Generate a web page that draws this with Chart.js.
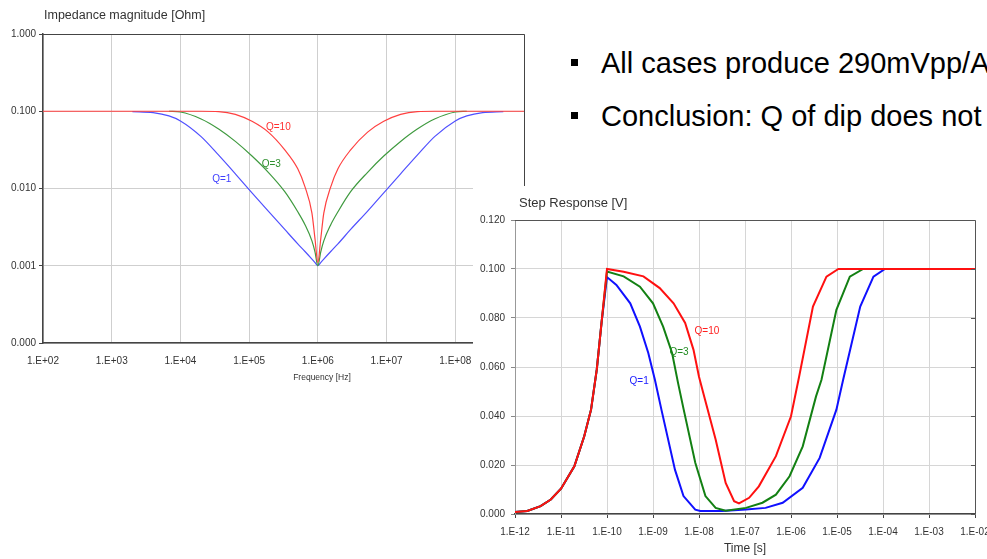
<!DOCTYPE html>
<html>
<head>
<meta charset="utf-8">
<script src="https://cdn.jsdelivr.net/npm/chart.js@4.4.1/dist/chart.umd.min.js"></script>
<style>
  html, body { margin: 0; padding: 0; background: #fff; width: 987px; height: 559px; overflow: hidden; position: relative; font-family: "Liberation Sans", Arial, sans-serif; }
  canvas { position: absolute; }
  #impedance { left: 0; top: 0; }
  #step { left: 473px; top: 186px; background: #fff; }
  .bullet { position: absolute; left: 601px; font-size: 29px; line-height: 29px; color: #000; white-space: nowrap; }
  .bullet::before { content: ""; position: absolute; left: -30px; top: 10px; width: 7px; height: 7px; background: #000; }
</style>
</head>
<body>
<canvas id="impedance" width="560" height="392"></canvas>
<div class="bullet" style="top:49px">All cases produce 290mVpp/A</div>
<div class="bullet" style="top:102px">Conclusion: Q of dip does not</div>
<canvas id="step" width="560" height="373"></canvas>
<script>
// IMPEDANCE CHART DATA
var freqs = [1e2, 1e3, 2e3, 4e3, 6.8e3, 1e4, 2e4, 3.6e4, 6.3e4, 1.1e5, 1.9e5, 3.3e5, 5.1e5, 6.5e5, 8.2e5, 9.1e5, 1e6,
             1.1e6, 1.22e6, 1.54e6, 1.96e6, 3e6, 5.3e6, 9.1e6, 1.6e7, 2.8e7, 5e7, 1e8, 1.47e8, 2.5e8, 5e8, 1e9];
var zQ10 = [0.1, 0.1, 0.1, 0.1, 0.1, 0.1, 0.1, 0.099, 0.0912, 0.0741, 0.0537, 0.0316, 0.018, 0.0105, 0.0048, 0.0022, 0.0011,
            0.0022, 0.0048, 0.0105, 0.018, 0.0316, 0.0537, 0.0741, 0.0912, 0.099, 0.1, 0.1, 0.1, 0.1, 0.1, 0.1];
var zQ3 = [null, null, null, null, 0.1, 0.0977, 0.0794, 0.0589, 0.0407, 0.0263, 0.0162, 0.0091, 0.005, 0.0034, 0.0021, 0.0015, 0.001,
           0.0015, 0.0021, 0.0034, 0.005, 0.0091, 0.0162, 0.0263, 0.0407, 0.0589, 0.0794, 0.0977, 0.1, null, null, null];
var zQ1 = [null, null, 0.099, 0.096, 0.087, 0.075, 0.047, 0.027, 0.0155, 0.0088, 0.0051, 0.00295, 0.00192, 0.00153, 0.00122, 0.0011, 0.001,
           0.0011, 0.00122, 0.00153, 0.00192, 0.00295, 0.0051, 0.0088, 0.0155, 0.027, 0.047, 0.075, 0.087, 0.096, 0.099, null];
var freqTicks = [1e2, 1e3, 1e4, 1e5, 1e6, 1e7, 1e8, 1e9];
var freqTickLabels = ['1.E+02', '1.E+03', '1.E+04', '1.E+05', '1.E+06', '1.E+07', '1.E+08', '1.E+09'];
var zTicks = [1e-4, 1e-3, 1e-2, 1e-1, 1];
var zTickLabels = ['0.000', '0.001', '0.010', '0.100', '1.000'];

// STEP RESPONSE DATA
var tQ10 = [1e-12, 1.85e-12, 3.6e-12, 6e-12, 1e-11, 1.95e-11, 3.2e-11, 4.5e-11, 6e-11, 7.6e-11, 1e-10, 2.3e-10, 6.2e-10, 1.4e-9, 2.8e-9, 5e-9, 7.6e-9, 1e-8,
            1.35e-8, 2.3e-8, 3.8e-8, 5.8e-8, 7.4e-8, 1.23e-7, 2e-7, 4.7e-7, 1e-6, 1.5e-6, 3e-6, 5.9e-6, 1.07e-5, 1e-2];
var vQ10 = [0.0008, 0.0012, 0.0032, 0.0059, 0.0103, 0.0195, 0.0317, 0.0426, 0.059, 0.078, 0.1, 0.0989, 0.097, 0.0922, 0.086, 0.078, 0.067, 0.056,
            0.0467, 0.0304, 0.0127, 0.0052, 0.0043, 0.0066, 0.0113, 0.0236, 0.0399, 0.056, 0.0847, 0.0969, 0.1, 0.1];
var tQ3 = [1e-12, 1.85e-12, 3.6e-12, 6e-12, 1e-11, 1.95e-11, 3.2e-11, 4.5e-11, 6e-11, 7.6e-11, 1e-10, 2.3e-10, 5.2e-10, 1e-9, 1.66e-9, 2.6e-9, 3.5e-9, 4.6e-9,
           8.3e-9, 1.38e-8, 2.3e-8, 3.8e-8, 1.05e-7, 2.4e-7, 4.7e-7, 9.3e-7, 1.8e-6, 3.5e-6, 4.6e-6, 9.7e-6, 1.9e-5, 3.7e-5, 1e-2];
var vQ3 = [0.0008, 0.0012, 0.0032, 0.0059, 0.0103, 0.0195, 0.0317, 0.0426, 0.059, 0.078, 0.099, 0.097, 0.0928, 0.086, 0.0765, 0.0657, 0.0535, 0.043,
           0.0209, 0.0073, 0.0025, 0.0013, 0.0025, 0.0046, 0.0079, 0.0154, 0.0276, 0.048, 0.0548, 0.0833, 0.0969, 0.1, 0.1];
var tQ1 = [1e-12, 1.85e-12, 3.6e-12, 6e-12, 1e-11, 1.95e-11, 3.2e-11, 4.5e-11, 6e-11, 7.6e-11, 1e-10, 1.6e-10, 3.2e-10, 5.2e-10, 7.9e-10, 1.1e-9, 1.55e-9,
           3e-9, 4.6e-9, 8.3e-9, 1.07e-8, 3.2e-8, 1.05e-7, 2.8e-7, 6.6e-7, 1.8e-6, 4.2e-6, 9.7e-6, 1.36e-5, 3.2e-5, 6.2e-5, 1.1e-4, 1e-2];
var vQ1 = [0.0008, 0.0012, 0.0032, 0.0059, 0.0103, 0.0195, 0.0317, 0.0426, 0.059, 0.078, 0.0967, 0.0935, 0.086, 0.0765, 0.0657, 0.0548, 0.042,
           0.0181, 0.0073, 0.0018, 0.0012, 0.0012, 0.0018, 0.0025, 0.0046, 0.0107, 0.0229, 0.0426, 0.0548, 0.0847, 0.0969, 0.1, 0.1];
var timeTicks = [1e-12, 1e-11, 1e-10, 1e-9, 1e-8, 1e-7, 1e-6, 1e-5, 1e-4, 1e-3, 1e-2];
var timeTickLabels = ['1.E-12', '1.E-11', '1.E-10', '1.E-09', '1.E-08', '1.E-07', '1.E-06', '1.E-05', '1.E-04', '1.E-03', '1.E-02'];
var vTicks = [0, 0.02, 0.04, 0.06, 0.08, 0.1, 0.12];
var vTickLabels = ['0.000', '0.020', '0.040', '0.060', '0.080', '0.100', '0.120'];

var FONT = '"Liberation Sans", Arial, sans-serif';

function pts(xs, ys) {
    return xs.map(function (x, i) { return { x: x, y: ys[i] }; }).filter(function (p) { return p.y !== null; });
}

// titles, curve labels and frame
var overlay = {
    id: 'overlay',
    afterDraw: function (chart, args, o) {
        var ctx = chart.ctx, a = chart.chartArea, sx = chart.scales.x, sy = chart.scales.y;
        ctx.save();
        ctx.lineWidth = 1;
        ctx.strokeStyle = o.frameColor;
        ctx.beginPath();
        ctx.moveTo(a.left, Math.round(a.top) + 0.5);
        ctx.lineTo(Math.round(a.right) + 0.5, Math.round(a.top) + 0.5);
        ctx.lineTo(Math.round(a.right) + 0.5, a.bottom);
        ctx.stroke();
        if (o.rightTicks) {
            ctx.beginPath();
            sy.ticks.forEach(function (t) {
                var y = Math.round(sy.getPixelForValue(t.value)) + 0.5;
                ctx.moveTo(a.right - 4, y);
                ctx.lineTo(a.right, y);
            });
            ctx.stroke();
        }
        ctx.fillStyle = '#333';
        ctx.textBaseline = 'middle';
        ctx.textAlign = 'left';
        ctx.font = o.titleFont;
        ctx.fillText(o.title, a.left + o.titleDx, a.top - o.titleDy);
        ctx.textAlign = 'center';
        ctx.font = o.xTitleFont;
        ctx.fillText(o.xTitle, a.left + a.width * o.xTitlePos, a.bottom + o.xTitleDy);
        ctx.font = '10px ' + FONT;
        o.labels.forEach(function (l) {
            ctx.fillStyle = l.color;
            ctx.fillText(l.text, sx.getPixelForValue(l.x), sy.getPixelForValue(l.y));
        });
        ctx.restore();
    }
};

// CHART IMPEDANCE
var ctx1 = document.getElementById('impedance');
var impedanceChart = new Chart(ctx1, {
    type: 'line',
    data: {
        datasets: [
            { label: 'Q=10', data: pts(freqs, zQ10), borderColor: '#ff4040', borderWidth: 1.2 },
            { label: 'Q=3', data: pts(freqs, zQ3), borderColor: '#3f9a3f', borderWidth: 1.2 },
            { label: 'Q=1', data: pts(freqs, zQ1), borderColor: '#5050ff', borderWidth: 1.2 }
        ]
    },
    options: {
        responsive: false,
        animation: false,
        events: [],
        layout: { padding: { top: 34, left: 0, right: 36, bottom: 0 } },
        elements: { point: { radius: 0 }, line: { cubicInterpolationMode: 'monotone' } },
        plugins: {
            legend: { display: false },
            tooltip: { enabled: false },
            overlay: {
                frameColor: '#444',
                title: 'Impedance magnitude [Ohm]', titleFont: '12.5px ' + FONT, titleDx: 1, titleDy: 18,
                xTitle: 'Frequency [Hz]', xTitleFont: '8.5px ' + FONT, xTitlePos: 0.58, xTitleDy: 35,
                labels: [
                    { text: 'Q=10', x: 2.66e5, y: 0.0613, color: '#ff3030' },
                    { text: 'Q=3', x: 2.1e5, y: 0.0209, color: '#2f8f2f' },
                    { text: 'Q=1', x: 4e4, y: 0.0133, color: '#4040ff' }
                ]
            }
        },
        scales: {
            x: {
                type: 'logarithmic', min: 1e2, max: 1e9,
                afterBuildTicks: function (s) { s.ticks = freqTicks.map(function (v) { return { value: v }; }); },
                afterFit: function (s) { s.height = 49; },
                ticks: {
                    autoSkip: false, maxRotation: 0, padding: 12, color: '#333', font: { size: 10, family: FONT },
                    callback: function (v, i) { return freqTickLabels[i]; }
                },
                grid: { color: '#cfcfcf', tickLength: 0 },
                border: { color: '#444', width: 1.5 }
            },
            y: {
                type: 'logarithmic', min: 1e-4, max: 1,
                afterBuildTicks: function (s) { s.ticks = zTicks.map(function (v) { return { value: v }; }); },
                afterFit: function (s) { s.width = 43; },
                ticks: {
                    padding: 3, color: '#333', font: { size: 10, family: FONT },
                    callback: function (v, i) { return zTickLabels[i]; }
                },
                grid: { color: '#cfcfcf', tickLength: 4, tickColor: '#444' },
                border: { color: '#444', width: 1.5 }
            }
        }
    },
    plugins: [overlay]
});

// CHART STEP RESPONSE
var ctx2 = document.getElementById('step');
var stepChart = new Chart(ctx2, {
    type: 'line',
    data: {
        datasets: [
            { label: 'Q=10', data: pts(tQ10, vQ10), borderColor: '#ff1010', borderWidth: 2 },
            { label: 'Q=3', data: pts(tQ3, vQ3), borderColor: '#138013', borderWidth: 2 },
            { label: 'Q=1', data: pts(tQ1, vQ1), borderColor: '#1010ff', borderWidth: 2 }
        ]
    },
    options: {
        responsive: false,
        animation: false,
        events: [],
        layout: { padding: { top: 34, left: 0, right: 58, bottom: 0 } },
        elements: { point: { radius: 0 }, line: { tension: 0 } },
        plugins: {
            legend: { display: false },
            tooltip: { enabled: false },
            overlay: {
                frameColor: '#555', rightTicks: true,
                title: 'Step Response [V]', titleFont: '13px ' + FONT, titleDx: 4, titleDy: 17,
                xTitle: 'Time [s]', xTitleFont: '12px ' + FONT, xTitlePos: 0.5, xTitleDy: 35,
                labels: [
                    { text: 'Q=10', x: 1.49e-8, y: 0.0744, color: '#ff2020' },
                    { text: 'Q=3', x: 3.67e-9, y: 0.0662, color: '#1f8a1f' },
                    { text: 'Q=1', x: 5e-10, y: 0.054, color: '#2020ff' }
                ]
            }
        },
        scales: {
            x: {
                type: 'logarithmic', min: 1e-12, max: 1e-2,
                afterBuildTicks: function (s) { s.ticks = timeTicks.map(function (v) { return { value: v }; }); },
                afterFit: function (s) { s.height = 45; },
                ticks: {
                    autoSkip: false, maxRotation: 0, padding: 8, color: '#333', font: { size: 10, family: FONT },
                    callback: function (v, i) { return timeTickLabels[i]; }
                },
                grid: { color: '#d6d6d6', tickLength: 4, tickColor: '#444' },
                border: { color: '#444', width: 1.5 }
            },
            y: {
                type: 'linear', min: 0, max: 0.12,
                afterBuildTicks: function (s) { s.ticks = vTicks.map(function (v) { return { value: v }; }); },
                afterFit: function (s) { s.width = 42; },
                ticks: {
                    padding: 6, color: '#333', font: { size: 10, family: FONT },
                    callback: function (v, i) { return vTickLabels[i]; }
                },
                grid: { color: '#d6d6d6', tickLength: 4, tickColor: '#888' },
                border: { color: '#999', width: 1 }
            }
        }
    },
    plugins: [overlay]
});
</script>
</body>
</html>
